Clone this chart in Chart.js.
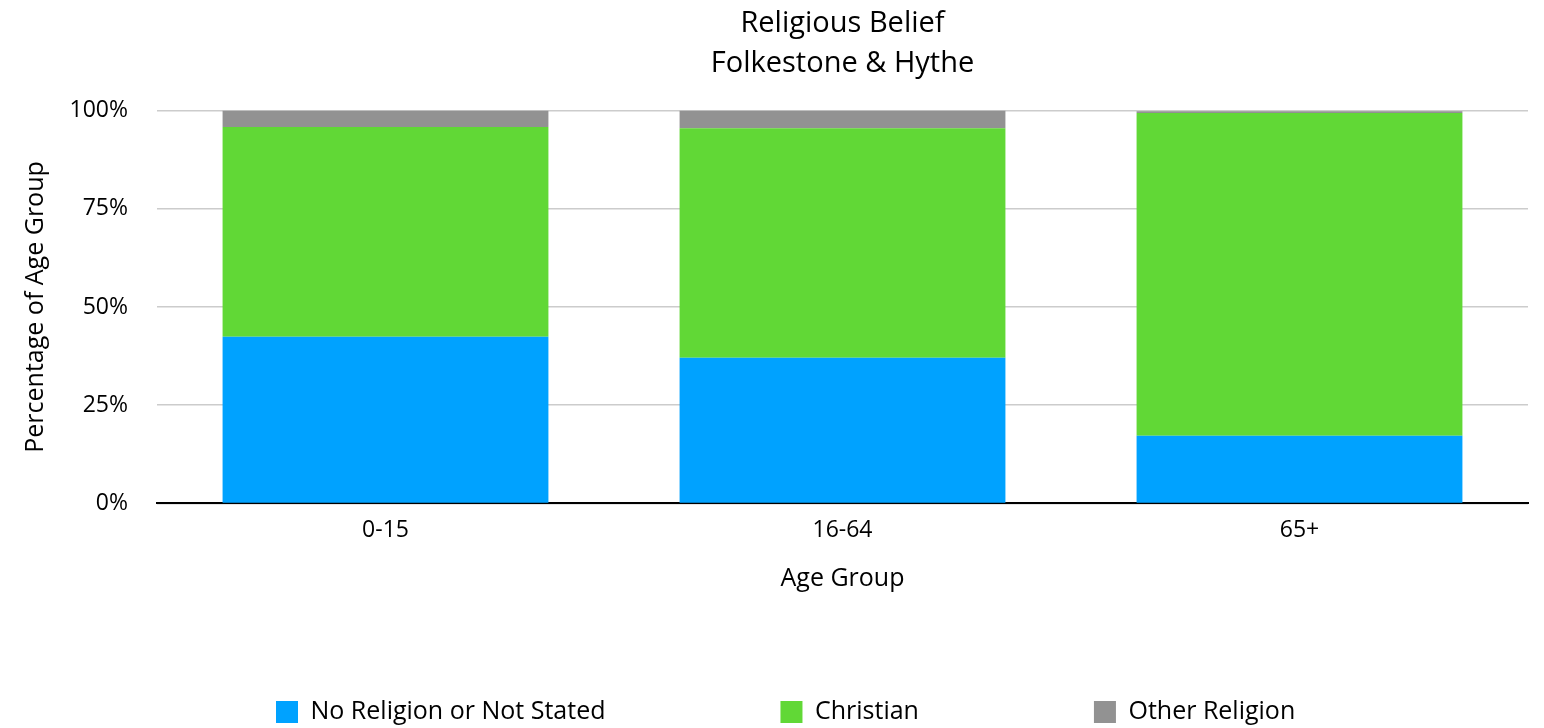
<!DOCTYPE html>
<html>
<head>
<meta charset="utf-8">
<title>Religious Belief - Folkestone & Hythe</title>
<script src="https://cdn.jsdelivr.net/npm/chart.js@4/dist/chart.umd.min.js"></script>
<style>
  html, body { margin: 0; padding: 0; background: #fff; }
  #wrap { width: 1544px; height: 728px; }
</style>
</head>
<body>
<div id="wrap"><canvas id="myChart" width="1544" height="728"></canvas></div>
<script>
// age groups along the x axis
const ageGroups = ["0-15", "16-64", "65+"];

// share of each age group, in percent
const noReligion = [42.4, 37.1, 17.2];
const christian = [53.4, 58.4, 82.2];
const otherReligion = [4.2, 4.5, 0.4];

const yTicks = [0, 25, 50, 75, 100];

Chart.defaults.font.family = "'Open Sans', Lato, sans-serif";
Chart.defaults.font.size = 23;
Chart.defaults.color = "#000";

// the legend uses a wide gap between items; keep it from eating vertical
// space and park it along the bottom edge instead
const legendSpot = {
    id: "legendSpot",
    beforeLayout(chart) {
        const legend = chart.legend;
        if (!legend || legend.spotPatched) return;
        const fit = legend.fit;
        legend.fit = function() {
            fit.call(this);
            this.height = 134;
        };
        legend.spotPatched = true;
    },
    afterLayout(chart) {
        const legend = chart.legend;
        const pad = legend.options.labels.padding;
        legend.top = chart.height - 28.5 - pad;
        legend.left = 276 - pad;
    }
};

let ctx = document.getElementById("myChart").getContext("2d");

let chart = new Chart(ctx, {
    type: "bar",
    data: {
        labels: ageGroups,
        datasets: [{
            label: "No Religion or Not Stated",
            data: noReligion,
            backgroundColor: "#00A2FF"
        }, {
            label: "Christian",
            data: christian,
            backgroundColor: "#61D836"
        }, {
            label: "Other Religion",
            data: otherReligion,
            backgroundColor: "#929292"
        }]
    },
    options: {
        responsive: false,
        animation: false,
        layout: { padding: { left: 2, right: 16, top: 4, bottom: 0 } },
        datasets: {
            bar: { barPercentage: 0.713, categoryPercentage: 1 }
        },
        scales: {
            x: {
                stacked: true,
                grid: { display: false, drawTicks: false },
                border: { display: true, color: "#000", width: 2 },
                ticks: { padding: 13 },
                title: {
                    display: true,
                    text: "Age Group",
                    font: { size: 25 },
                    padding: { top: 7, bottom: 0 }
                }
            },
            y: {
                stacked: true,
                min: 0,
                max: 100,
                afterBuildTicks: function(axis) {
                    axis.ticks = yTicks.map(v => ({ value: v }));
                },
                // fixed gutter for the title and the % labels
                afterFit: function(axis) {
                    axis.width = 155;
                },
                grid: { color: "#cccccc", lineWidth: 1.5, drawTicks: false },
                border: { display: false },
                ticks: {
                    padding: 29,
                    callback: function(v) { return v + "%"; }
                },
                title: {
                    display: true,
                    text: "Percentage of Age Group",
                    font: { size: 25 },
                    padding: { top: 19, bottom: 0 }
                }
            }
        },
        plugins: {
            title: {
                display: true,
                text: ["Religious Belief", "Folkestone & Hythe"],
                fullSize: false,
                font: { size: 29, weight: "normal", lineHeight: 1.38 },
                padding: { top: 0, bottom: 26.5 }
            },
            legend: {
                position: "bottom",
                align: "start",
                labels: {
                    boxWidth: 22,
                    boxHeight: 22,
                    padding: 175,
                    font: { size: 25 }
                }
            },
            tooltip: { enabled: false }
        }
    },
    plugins: [legendSpot]
});
</script>
</body>
</html>
